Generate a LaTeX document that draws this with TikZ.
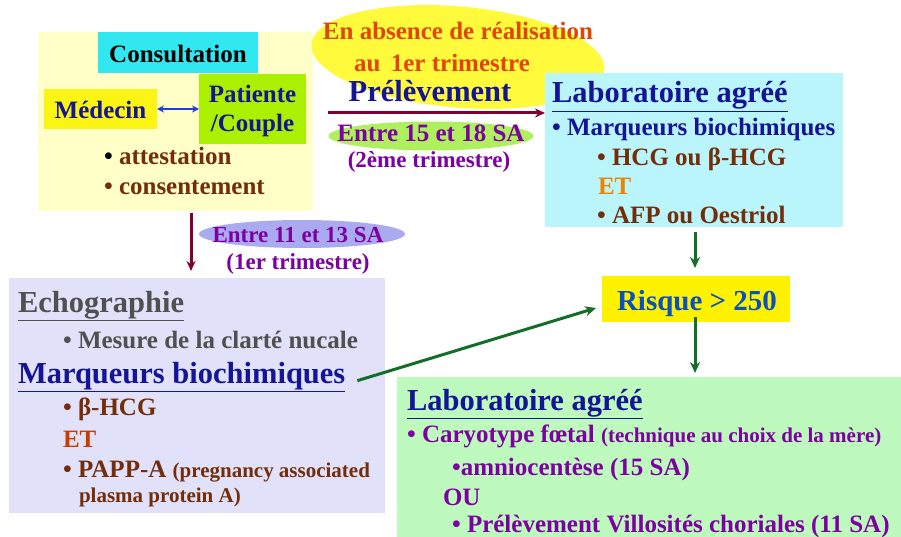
\documentclass[tikz,border=0pt]{standalone}
\usepackage{fontspec}
\setmainfont{Liberation Serif}
\usetikzlibrary{arrows.meta,shapes.geometric}
\definecolor{paleyellow}{RGB}{255,255,200}
\definecolor{cyanbox}{RGB}{50,232,240}
\definecolor{yellowbox}{RGB}{252,245,20}
\definecolor{limebox}{RGB}{170,240,0}
\definecolor{ellyellow}{RGB}{255,250,60}
\definecolor{orangetxt}{RGB}{225,70,0}
\definecolor{darkblue}{RGB}{20,20,150}
\definecolor{darkred}{RGB}{128,0,48}
\definecolor{ellgreen}{RGB}{175,240,95}
\definecolor{purpletxt}{RGB}{125,0,160}
\definecolor{lightcyan}{RGB}{185,245,250}
\definecolor{browntxt}{RGB}{115,45,10}
\definecolor{orangeET}{RGB}{240,130,0}
\definecolor{arrowgreen}{RGB}{20,110,40}
\definecolor{risqueblue}{RGB}{10,80,190}
\definecolor{lightgreen}{RGB}{190,250,190}
\definecolor{lavender}{RGB}{225,225,250}
\definecolor{ellviolet}{RGB}{170,170,240}
\definecolor{graytxt}{RGB}{80,80,80}
\definecolor{etred}{RGB}{200,60,0}
\definecolor{dblarrow}{RGB}{30,60,230}
\newcommand\szm{\fontsize{25}{29}\selectfont\bfseries}
\newcommand\szh{\fontsize{30.5}{34}\selectfont\bfseries}
\newcommand\szs{\fontsize{23}{26}\selectfont\bfseries}
\newcommand\szt{\fontsize{21}{24}\selectfont\bfseries}
\tikzset{
  boxnode/.style={anchor=north west, inner sep=0, outer sep=0},
  txt/.style={anchor=base west, inner sep=0, outer sep=0},
  ctxt/.style={anchor=base, inner sep=0, outer sep=0},
  garrow/.style={draw=arrowgreen, line width=3pt, -{Stealth[length=11pt,width=10pt]}},
  rarrow/.style={draw=darkred, line width=3pt, -{Stealth[length=10pt,width=9pt]}},
}
\begin{document}
\begin{tikzpicture}[x=1pt,y=-1pt]
\useasboundingbox (0,0) rectangle (901,537);
% ---- Consultation block
\node[boxnode, fill=paleyellow, minimum width=275, minimum height=179] (cons) at (38,32) {};
\node[boxnode, fill=cyanbox, minimum width=160, minimum height=41] (consT) at (98,32) {};
\node[ctxt] (consL) at (178,63) {\szm Consultation};
\node[boxnode, fill=yellowbox, minimum width=113, minimum height=40] (med) at (44,89) {};
\node[ctxt, text=darkblue] (medL) at (100.5,119) {\szm Médecin};
\node[boxnode, fill=limebox, minimum width=107, minimum height=70] (pat) at (199,74) {};
\node[ctxt, text=darkblue] (patL1) at (252.5,103) {\szm Patiente};
\node[ctxt, text=darkblue] (patL2) at (252.5,132) {\szm /Couple};
\draw[draw=dblarrow, line width=2.2pt, {Stealth[length=7pt,width=7pt]}-{Stealth[length=7pt,width=7pt]}] (med.east |- 0,109) -- (pat.west |- 0,109);
\node[txt, text=browntxt] (att) at (104,165) {\szm \textcolor{black}{•} attestation};
\node[txt, text=browntxt] (cst) at (104,195) {\szm • consentement};
% ---- top ellipse and Prélèvement
\node[ellipse, fill=ellyellow, minimum width=294, minimum height=101, inner sep=0, rotate=-5] (ell) at (458,57) {};
\node[ctxt, text=orangetxt] (abs1) at (458,40) {\szm En absence de réalisation};
\node[ctxt, text=orangetxt] (abs2) at (442,72) {\szm au\, 1er trimestre};
\node[ctxt, text=darkblue] (prel) at (430,102) {\szh Prélèvement};
\node[ellipse, fill=ellgreen, minimum width=205, minimum height=29, inner sep=0] (ell2) at (431,136) {};
\node[ctxt, text=purpletxt] (e15) at (431,142) {\szm Entre 15 et 18 SA};
\node[ctxt, text=purpletxt] (t2) at (429,168) {\szs (2ème trimestre)};
% ---- lab box 1
\node[boxnode, fill=lightcyan, minimum width=298, minimum height=154] (lab1) at (545,73) {};
\coordinate (p0) at (328,113);
\draw[rarrow] (p0) -- (p0 -| lab1.west);
\node[txt, text=darkblue] (lab1T) at (552,103) {\szh \underline{Laboratoire agréé}};
\node[txt, text=darkblue] (lab1a) at (552,136) {\szm • Marqueurs biochimiques};
\node[txt, text=browntxt] (lab1b) at (597,166) {\szm • HCG ou β-HCG};
\node[txt, text=orangeET] (lab1c) at (598,195) {\szm ET};
\node[txt, text=browntxt] (lab1d) at (597,223) {\szm • AFP ou Oestriol};
% ---- risque
\node[boxnode, fill=yellow, minimum width=188, minimum height=46] (risk) at (602,276) {};
\node[ctxt, text=risqueblue] (riskL) at (697,310) {\fontsize{29}{32}\selectfont\bfseries Risque > 250};
\draw[garrow] (lab1.south -| 695,0) ++(0,5) coordinate (a1) (a1) -- (a1 |- 0,268);
\draw[garrow] ([yshift=5pt]risk.south -| 695,0) -- (695,373);
% ---- lab box 2
\node[boxnode, fill=lightgreen, minimum width=505, minimum height=161] (lab2) at (397,377) {};
\node[txt, text=darkblue] (lab2T) at (407,410) {\szh \underline{Laboratoire agréé}};
\node[txt, text=purpletxt] (lab2a) at (407,442) {\szm • Caryotype fœtal \szt(technique au choix de la mère)};
\node[txt, text=purpletxt] (lab2b) at (452,475) {\szm •amniocentèse (15 SA)};
\node[txt, text=purpletxt] (lab2c) at (443,505) {\szm OU};
\node[txt, text=purpletxt] (lab2d) at (452,532) {\szm • Prélèvement Villosités choriales (11 SA)};
% ---- echographie block
\node[boxnode, fill=lavender, minimum width=376, minimum height=235] (echo) at (9,278) {};
\draw[rarrow] (191,213) -- (191,271);
\node[ellipse, fill=ellviolet, minimum width=206, minimum height=28, inner sep=0] (ell3) at (302,234) {};
\node[ctxt, text=purpletxt] (e11) at (298,242) {\szs Entre 11 et 13 SA};
\node[ctxt, text=purpletxt] (t1) at (298,269) {\szs (1er trimestre)};
\node[txt, text=graytxt] (echoT) at (18,312) {\szh \underline{Echographie}};
\node[txt, text=graytxt] (echoa) at (63,348) {\szm • Mesure de la clarté nucale};
\node[txt, text=darkblue] (mbT) at (18,383) {\szh \underline{Marqueurs biochimiques}};
\node[txt, text=browntxt] (mba) at (63,415) {\szm • β-HCG};
\node[txt, text=etred] (mbb) at (63,447) {\szm ET};
\node[txt, text=browntxt] (mbc) at (63,477) {\szm • PAPP-A \szt(pregnancy associated};
\node[txt, text=browntxt] (mbd) at (79,502) {\szt plasma protein A)};
\draw[garrow] ([xshift=12pt,yshift=-4pt]mbT.east) -- ([xshift=-6pt]risk.west |- 0,308);
\end{tikzpicture}
\end{document}
